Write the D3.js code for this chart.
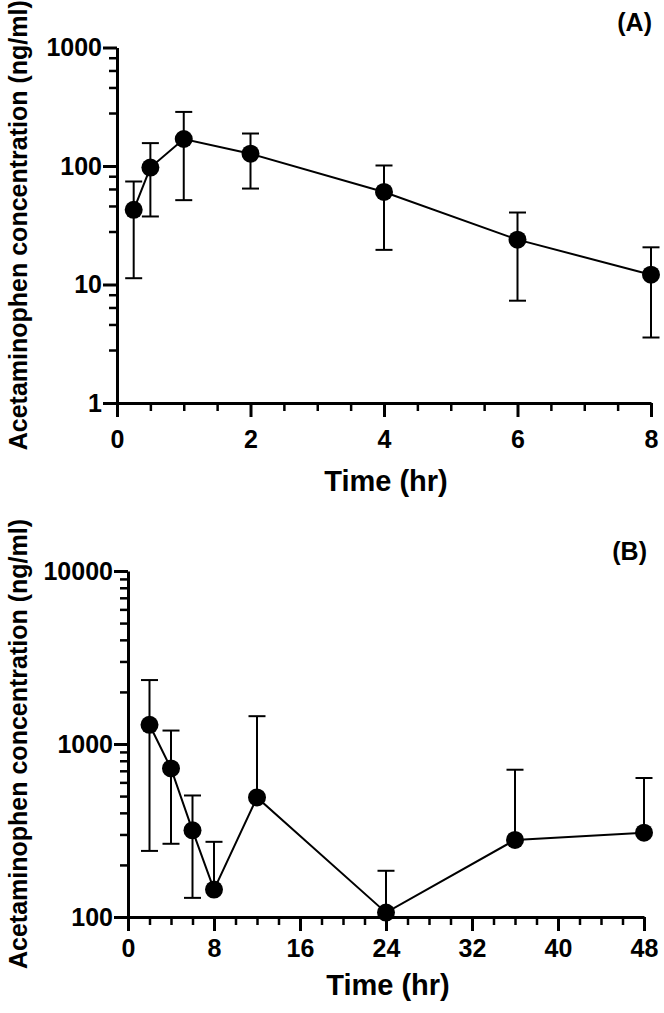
<!DOCTYPE html>
<html>
<head>
<meta charset="utf-8">
<script src="https://cdn.jsdelivr.net/npm/d3@7"></script>
<style>
html,body{margin:0;padding:0;background:#fff;}
svg{display:block;}
text{font-family:"Liberation Sans",Arial,sans-serif;font-weight:bold;fill:#000;}
</style>
</head>
<body>
<svg id="chart" width="664" height="1013"></svg>
<script>
// Panel A data
const timeA = [0.25, 0.5, 1, 2, 4, 6, 8];
const meanA = [42.7, 97, 169, 127, 60.4, 23.9, 12.1];
const upperA = [74, 156, 286, 188, 101, 40.5, 20.6];
const lowerA = [11.3, 37.5, 51.5, 64.5, 19.6, 7.3, 3.57];
const xTicksA = [0, 2, 4, 6, 8];
const yTicksA = [1, 10, 100, 1000];

// Panel B data
const timeB = [2, 4, 6, 8, 12, 24, 36, 48];
const meanB = [1291, 722, 317, 144, 491, 106, 279, 307];
const upperB = [2342, 1196, 504, 272, 1448, 185, 710, 636];
const lowerB = [241, 265, 129, null, null, null, null, null];
const xTicksB = [0, 8, 16, 24, 32, 40, 48];
const yTicksB = [100, 1000, 10000];

const yTitle = "Acetaminophen concentration (ng/ml)";
const xTitle = "Time (hr)";

const FONT = '"Liberation Sans",Arial,sans-serif';
const svg = d3.select("#chart");

function styleText(sel, size) {
  sel.attr("font-size", size).attr("font-family", null)
    .style("font-family", FONT).attr("font-weight", "bold").attr("fill", "#000");
}

function panel(cfg) {
  const g = svg.append("g");
  const x = d3.scaleLinear().domain(cfg.xDomain).range(cfg.xRange);
  const y = d3.scaleLog().domain(cfg.yDomain).range(cfg.yRange);

  // minor ticks
  g.append("g").attr("transform", `translate(0,${cfg.yRange[0]})`)
    .call(d3.axisBottom(x).tickValues(cfg.xMinor).tickSize(8).tickFormat(""))
    .call(a => a.select(".domain").remove())
    .call(a => a.selectAll("line").attr("stroke-width", 2.5));
  g.append("g").attr("transform", `translate(${cfg.xRange[0]},0)`)
    .call(d3.axisLeft(y).tickValues(cfg.yMinor).tickSize(8).tickFormat(""))
    .call(a => a.select(".domain").remove())
    .call(a => a.selectAll("line").attr("stroke-width", 2.5));

  // major axes
  const ax = g.append("g").attr("transform", `translate(0,${cfg.yRange[0]})`)
    .call(d3.axisBottom(x).tickValues(cfg.xTicks).tickSize(14).tickSizeOuter(0).tickPadding(cfg.xPad).tickFormat(d3.format("d")));
  ax.select(".domain").attr("stroke-width", 3);
  ax.selectAll("line").attr("stroke-width", 3);
  styleText(ax.selectAll("text"), 25);

  const ay = g.append("g").attr("transform", `translate(${cfg.xRange[0]},0)`)
    .call(d3.axisLeft(y).tickValues(cfg.yTicks).tickSize(14).tickSizeOuter(0).tickPadding(1).tickFormat(d3.format("d")));
  ay.select(".domain").attr("stroke-width", 3);
  ay.selectAll("line").attr("stroke-width", 3);
  styleText(ay.selectAll("text"), 25);

  const pts = cfg.time.map((t, i) => ({t, m: cfg.mean[i], u: cfg.upper[i], l: cfg.lower[i]}));

  // error bars
  const eb = g.append("g").attr("stroke", "#000").attr("stroke-width", 2);
  pts.forEach(p => {
    const cx = x(p.t);
    const lo = p.l == null ? p.m : p.l;
    eb.append("line").attr("x1", cx).attr("x2", cx).attr("y1", y(p.u)).attr("y2", y(lo));
    eb.append("line").attr("x1", cx - 8.5).attr("x2", cx + 8.5).attr("y1", y(p.u)).attr("y2", y(p.u));
    if (p.l != null) eb.append("line").attr("x1", cx - 8.5).attr("x2", cx + 8.5).attr("y1", y(p.l)).attr("y2", y(p.l));
  });

  // line
  g.append("path").datum(pts)
    .attr("fill", "none").attr("stroke", "#000").attr("stroke-width", 2)
    .attr("d", d3.line().x(p => x(p.t)).y(p => y(p.m)));

  // markers
  g.selectAll("circle.pt").data(pts).enter().append("circle")
    .attr("cx", p => x(p.t)).attr("cy", p => y(p.m)).attr("r", 9).attr("fill", "#000");

  // titles
  g.append("text").attr("x", (cfg.xRange[0] + cfg.xRange[1]) / 2 + 2).attr("y", cfg.xTitleY)
    .attr("text-anchor", "middle").attr("font-size", 29).text(xTitle);
  g.append("text")
    .attr("transform", `translate(${cfg.yTitleX},${(cfg.yRange[0] + cfg.yRange[1]) / 2}) rotate(-90)`)
    .attr("text-anchor", "middle").attr("font-size", 25).text(yTitle);
  g.append("text").attr("x", cfg.labelX).attr("y", cfg.labelY)
    .attr("text-anchor", "end").attr("font-size", 25).text(cfg.label);
}

panel({
  time: timeA, mean: meanA, upper: upperA, lower: lowerA,
  xDomain: [0, 8], xRange: [117, 651],
  yDomain: [1, 1000], yRange: [403, 47.5],
  xTicks: xTicksA, yTicks: yTicksA, xPad: 13,
  xMinor: d3.range(0, 8.01, 0.5).filter(v => v % 2 !== 0),
  yMinor: [1, 10, 100].flatMap(d => [2.8, 4.6, 6.4, 8.2].map(m => m * d)),
  xTitleY: 491, yTitleX: 27, label: "(A)", labelX: 652, labelY: 31
});

panel({
  time: timeB, mean: meanB, upper: upperB, lower: lowerB,
  xDomain: [0, 48], xRange: [128, 644],
  yDomain: [100, 10000], yRange: [917, 571],
  xTicks: xTicksB, yTicks: yTicksB, xPad: 8,
  xMinor: d3.range(0, 48.1, 2).filter(v => v % 8 !== 0),
  yMinor: [100, 1000].flatMap(d => [2, 3, 4, 5, 6, 7, 8, 9].map(m => m * d)),
  xTitleY: 995, yTitleX: 27, label: "(B)", labelX: 647, labelY: 560
});
</script>
</body>
</html>
